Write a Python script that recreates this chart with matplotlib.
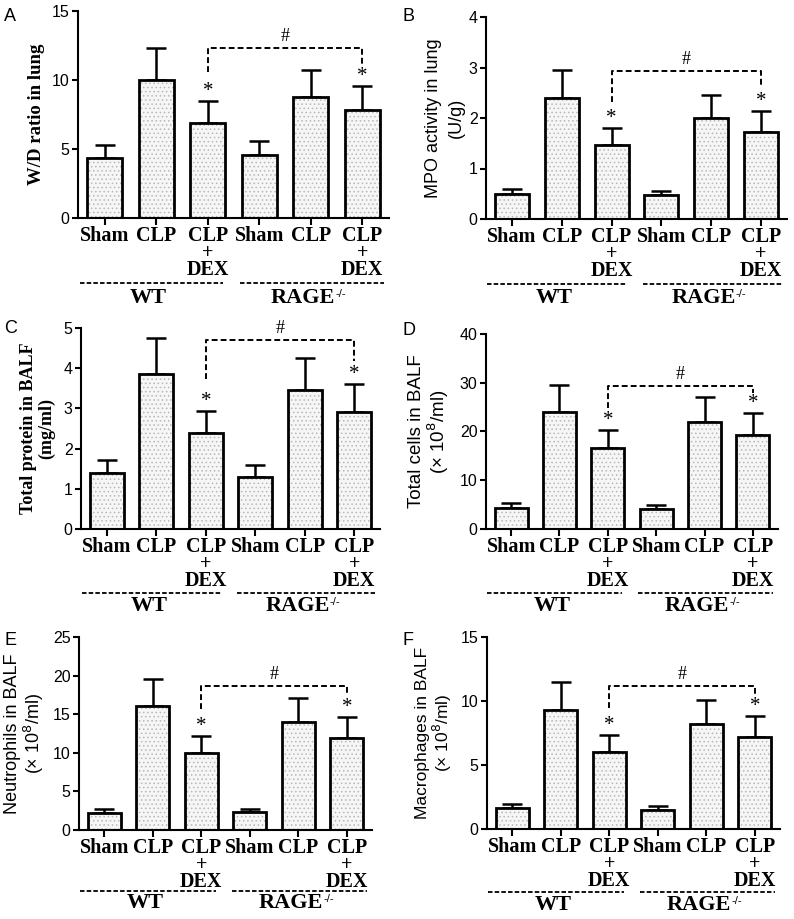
import matplotlib
matplotlib.use("Agg")
import matplotlib.pyplot as plt
import numpy as np

plt.rcParams['hatch.linewidth'] = 0.6

# ---------------- data ----------------
groups = ["Sham", "CLP", "CLP\n+\nDEX", "Sham", "CLP", "CLP\n+\nDEX"]

wd_mean = [4.35, 10.0, 6.9, 4.55, 8.75, 7.85]
wd_err = [0.95, 2.3, 1.6, 1.05, 2.0, 1.75]

mpo_mean = [0.50, 2.40, 1.47, 0.47, 2.00, 1.73]
mpo_err = [0.10, 0.55, 0.33, 0.09, 0.45, 0.40]

protein_mean = [1.40, 3.85, 2.38, 1.30, 3.45, 2.92]
protein_err = [0.32, 0.90, 0.55, 0.28, 0.80, 0.68]

cells_mean = [4.4, 24.0, 16.7, 4.2, 22.0, 19.3]
cells_err = [0.9, 5.5, 3.7, 0.8, 5.0, 4.4]

neut_mean = [2.2, 16.0, 10.0, 2.3, 14.0, 11.9]
neut_err = [0.5, 3.6, 2.2, 0.45, 3.1, 2.8]

macro_mean = [1.65, 9.3, 6.0, 1.5, 8.2, 7.15]
macro_err = [0.32, 2.15, 1.35, 0.3, 1.9, 1.65]

# ---------------- layout ----------------
W, H = 794, 919
fig = plt.figure(figsize=(W / 100, H / 100), dpi=100)

SERIF = "Liberation Serif"
SANS = "Liberation Sans"

panels = [
    dict(letter="A", box=(78, 389, 11, 218), mean=wd_mean, err=wd_err, ymax=15, step=5,
         ylabel="W/D ratio in lung", yfont=SERIF, ybold=True, ysize=13.5, ls=1.1,
         bracket=(12.3, 10.6, 11.1), letter_xy=(4, 8), pad=5, grp=(65, 80)),
    dict(letter="B", box=(486, 787, 17, 219), mean=mpo_mean, err=mpo_err, ymax=4, step=1,
         ylabel="MPO activity in lung\n(U/g)", yfont=SANS, ybold=False, ysize=13, ls=1.4,
         bracket=(2.93, 2.32, 2.62), letter_xy=(403, 8), pad=3, grp=(65, 79)),
    dict(letter="C", box=(81, 380, 328, 529), mean=protein_mean, err=protein_err, ymax=5, step=1,
         ylabel="Total protein in BALF\n(mg/ml)", yfont=SERIF, ybold=True, ysize=13, ls=1.05,
         bracket=(4.71, 3.73, 4.17), letter_xy=(4, 320), pad=6, grp=(64, 77)),
    dict(letter="D", box=(486, 778, 334, 529), mean=cells_mean, err=cells_err, ymax=40, step=10,
         ylabel="Total cells in BALF\n(\u00d7 10$^{8}$/ml)", yfont=SANS, ybold=False, ysize=13.5, ls=1.05,
         bracket=(29.3, 24.8, 27.9), letter_xy=(403, 322), pad=6, grp=(64, 77)),
    dict(letter="E", box=(79, 372, 637, 830), mean=neut_mean, err=neut_err, ymax=25, step=5,
         ylabel="Neutrophils in BALF\n(\u00d7 10$^{8}$/ml)", yfont=SANS, ybold=False, ysize=13, ls=1.05,
         bracket=(18.6, 15.7, 17.7), letter_xy=(4, 632), pad=5, grp=(61, 73)),
    dict(letter="F", box=(487, 780, 637, 829), mean=macro_mean, err=macro_err, ymax=15, step=5,
         ylabel="Macrophages in BALF\n(\u00d7 10$^{8}$/ml)", yfont=SANS, ybold=False, ysize=12.5, ls=1.05,
         bracket=(11.15, 9.45, 10.5), letter_xy=(403, 632), pad=5, grp=(63, 76)),
]

x = np.arange(len(groups))
bw = 0.68

for p in panels:
    l, r, t, b = p["box"]
    ax = fig.add_axes([l / W, (H - b) / H, (r - l) / W, (b - t) / H])
    ax_h = b - t
    mean = np.array(p["mean"])
    err = np.array(p["err"])

    # error bars (upper only)
    ax.errorbar(x, mean, yerr=[np.zeros_like(err), err], fmt="none", ecolor="black",
                elinewidth=1.8, capsize=7, capthick=1.8, zorder=1)
    # dotted fill
    ax.bar(x, mean, width=bw, facecolor="#f6f6f6", edgecolor="#b8b8b8", linewidth=0,
           hatch="....", zorder=2)
    # black outline
    ax.bar(x, mean, width=bw, facecolor="none", edgecolor="black", linewidth=2.0, zorder=3)

    ax.set_xlim(-0.52, 5.52)
    ax.set_ylim(0, p["ymax"])
    ax.set_yticks(np.arange(0, p["ymax"] + 0.001, p["step"]))
    ax.set_xticks(x)
    ax.set_xticklabels(groups, fontfamily=SERIF, fontweight="bold", fontsize=14.5)
    for lbl in ax.get_xticklabels():
        lbl.set_linespacing(0.8)
    ax.tick_params(axis="x", length=5, width=1.5, pad=1)
    ax.tick_params(axis="y", length=4, width=1.5, pad=2, labelsize=11.5)
    for lbl in ax.get_yticklabels():
        lbl.set_fontfamily(SANS)

    for s in ["top", "right"]:
        ax.spines[s].set_visible(False)
    for s in ["left", "bottom"]:
        ax.spines[s].set_linewidth(1.5)

    ax.set_ylabel(p["ylabel"], fontfamily=p["yfont"],
                  fontweight="bold" if p["ybold"] else "normal", fontsize=p["ysize"],
                  labelpad=p["pad"], linespacing=p["ls"])

    # significance stars
    for i in (2, 5):
        ax.annotate("*", xy=(x[i], mean[i] + err[i]), xytext=(0, 0), textcoords="offset pixels",
                    ha="center", va="bottom", fontfamily=SERIF, fontsize=15)

    # bracket
    top, yl, yr = p["bracket"]
    ax.plot([x[2], x[2], x[5], x[5]], [yl, top, top, yr], color="black", lw=1.4,
            linestyle=(0, (3, 1.6)), zorder=4)
    ax.annotate("#", xy=((x[2] + x[5]) / 2, top), xytext=(0, 3), textcoords="offset pixels",
                ha="center", va="bottom", fontfamily=SERIF, fontsize=13)

    # group lines and labels
    frac_line = -p["grp"][0] / ax_h
    frac_text = -p["grp"][1] / ax_h
    xt = ax.get_xaxis_transform()
    for x0, x1, xc, name, sup in [(-0.49, 2.3, 0.85, "WT", ""), (2.63, 5.42, 3.85, "RAGE", "-/-")]:
        ax.plot([x0, x1], [frac_line, frac_line], transform=xt,
                color="black", lw=1.3, linestyle=(0, (2.5, 1.2)), clip_on=False)
        tt = ax.text(xc, frac_text, name, transform=xt, ha="center",
                     va="center", fontfamily=SERIF, fontweight="bold", fontsize=16)
        if sup:
            ax.annotate(sup, xy=(1.0, 0.95), xycoords=tt, ha="left", va="top",
                        fontfamily=SANS, fontsize=8)

    fig.text(p["letter_xy"][0] / W, 1 - p["letter_xy"][1] / H, p["letter"], ha="left", va="top",
             fontfamily=SANS, fontsize=13)

fig.savefig("out.png", dpi=100)
